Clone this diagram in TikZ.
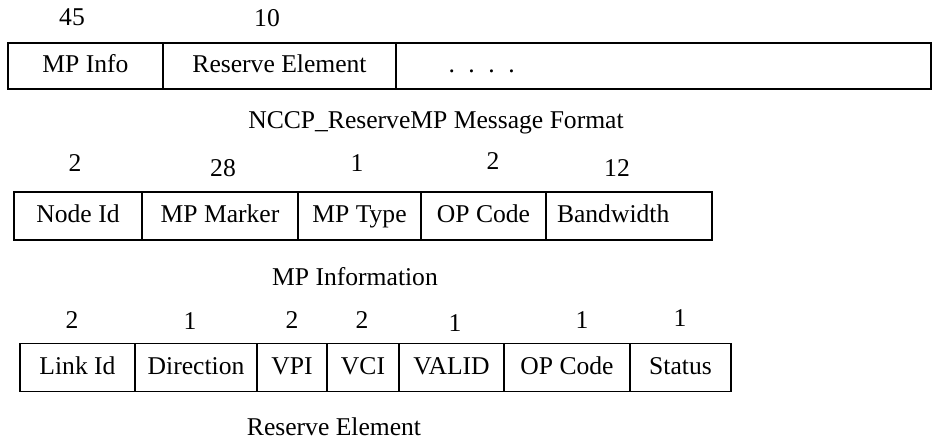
\documentclass[tikz,border=0pt]{standalone}
\usepackage{fontspec}
\setmainfont{Liberation Serif}
\usetikzlibrary{positioning}

\begin{document}
\begin{tikzpicture}[x=0.5pt,y=-0.5pt,
  every node/.style={font=\fontsize{12.8}{15}\selectfont},
  field/.style={draw,line width=0.6pt,outer sep=0pt,inner xsep=2pt,
                text height=0.66em,text depth=0pt},
  num/.style={text height=0.68em,text depth=0pt,inner sep=0pt},
  caption/.style={anchor=base,inner sep=0pt}]
  \useasboundingbox (0,0) rectangle (933,443);
  % NCCP_ReserveMP message format
  \node[field,minimum width=77.5pt,minimum height=23pt,anchor=west] (mpinfo) at (8,66) {MP Info};
  \node[field,minimum width=116.5pt,minimum height=23pt,right=0pt of mpinfo] (resel) {Reserve Element};
  \node[field,minimum width=267.5pt,minimum height=23pt,right=0pt of resel,text width=263pt,align=left] (more)
    {\hspace*{24pt}.\hspace{6.8pt}.\hspace{6.8pt}.\hspace{6.8pt}.};
  \node[num] (s45) at (72,19) {45};
  \node[num] (s10) at (267,20) {10};
  \node[caption] (capmsg) at (436,129) {NCCP\_ReserveMP Message Format};
  % MP information
  \node[field,minimum width=64pt,minimum height=24pt,anchor=west] (nid) at (14,216) {Node Id};
  \node[field,minimum width=78pt,minimum height=24pt,right=0pt of nid] (mark) {MP Marker};
  \node[field,minimum width=61.5pt,minimum height=24pt,right=0pt of mark] (mptype) {MP Type};
  \node[field,minimum width=62.5pt,minimum height=24pt,right=0pt of mptype] (opc) {OP Code};
  \node[field,minimum width=83pt,minimum height=24pt,right=0pt of opc,text width=79pt,align=left] (bw)
    {\hspace*{3.5pt}Bandwidth};
  \node[num] (snid) at (75,165) {2};
  \node[num] (smark) at (223,170) {28};
  \node[num] (smptype) at (357,165) {1};
  \node[num] (sopc) at (493,163) {2};
  \node[num] (sbw) at (617,170) {12};
  \node[caption] (capmp) at (355,286) {MP Information};
  % reserve element
  \node[field,minimum width=57.5pt,minimum height=24.25pt,anchor=west] (lid) at (20,367.5) {Link Id};
  \node[field,minimum width=61pt,minimum height=24.25pt,right=0pt of lid] (dir) {Direction};
  \node[field,minimum width=35pt,minimum height=24.25pt,right=0pt of dir] (vpi) {VPI};
  \node[field,minimum width=36pt,minimum height=24.25pt,right=0pt of vpi] (vci) {VCI};
  \node[field,minimum width=52.5pt,minimum height=24.25pt,right=0pt of vci] (valid) {VALID};
  \node[field,minimum width=63pt,minimum height=24.25pt,right=0pt of valid] (opcre) {OP Code};
  \node[field,minimum width=50.5pt,minimum height=24.25pt,right=0pt of opcre] (stat) {Status};
  \node[num] (slid) at (72,322) {2};
  \node[num] (sdir) at (190,323) {1};
  \node[num] (svpi) at (292,322) {2};
  \node[num] (svci) at (362,322) {2};
  \node[num] (svalid) at (455,325) {1};
  \node[num] (sopcre) at (582,322) {1};
  \node[num] (sstat) at (680,320) {1};
  \node[caption] (capre) at (334,436) {Reserve Element};
\end{tikzpicture}
\end{document}
